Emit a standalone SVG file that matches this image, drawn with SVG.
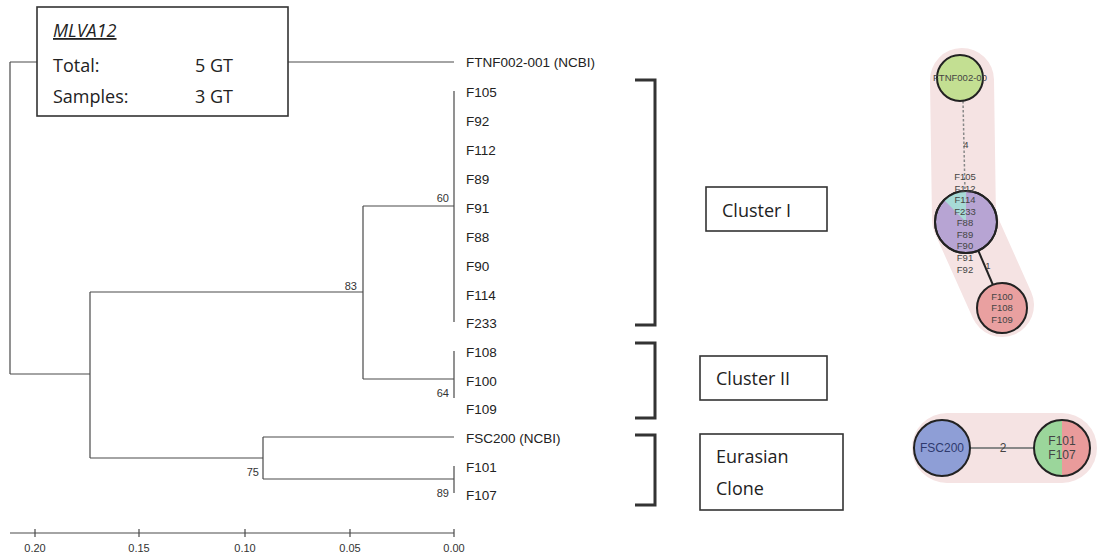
<svg xmlns="http://www.w3.org/2000/svg" width="1102" height="558" viewBox="0 0 1102 558">
<style>
.br{stroke:#4a4a4a;stroke-width:1.2;fill:none}
.lf{font-family:"Liberation Sans",Arial,sans-serif;font-size:13.5px;fill:#222}
.bs{font-family:"Liberation Sans",Arial,sans-serif;font-size:11px;fill:#333}
.ax{font-family:"Liberation Sans",Arial,sans-serif;font-size:11px;fill:#333;text-anchor:middle}
.bx{fill:#fff;stroke:#333;stroke-width:1.6}
.bt{font-family:"Open Sans","Liberation Sans",sans-serif;font-size:18px;fill:#222}
.brk{fill:none;stroke:#333;stroke-width:3}
.nl{font-family:"Liberation Sans",Arial,sans-serif;font-size:9.5px;fill:#444;text-anchor:middle}
.nb{font-family:"Liberation Sans",Arial,sans-serif;font-size:12px;fill:#444;text-anchor:middle}
.cs{stroke:#222;stroke-width:2}
</style>
<rect width="1102" height="558" fill="#fff"/>
<g id="connectors">
<path class="br" d="M10,62 V374 M10,62 H37 M288,62 H454"/>
<path class="br" d="M10,374 H90 M90,292 V458 M90,292 H363 M363,206 V379 M363,206 H454 M454,91 V322 M363,379 H454 M454,351 V398"/>
<path class="br" d="M90,458 H263 M263,437 V479 M263,437 H454 M263,479 H454 M454,466 V493"/>
</g>
<g id="support-values">
<text class="bs" x="449" y="202" text-anchor="end">60</text>
<text class="bs" x="357" y="290" text-anchor="end">83</text>
<text class="bs" x="449" y="397" text-anchor="end">64</text>
<text class="bs" x="259" y="476" text-anchor="end">75</text>
<text class="bs" x="449" y="497" text-anchor="end">89</text>
</g>
<g id="leaves">
<text class="lf" x="466" y="67">FTNF002-001 (NCBI)</text>
<text class="lf" x="466" y="97">F105</text>
<text class="lf" x="466" y="126">F92</text>
<text class="lf" x="466" y="155">F112</text>
<text class="lf" x="466" y="184">F89</text>
<text class="lf" x="466" y="213">F91</text>
<text class="lf" x="466" y="242">F88</text>
<text class="lf" x="466" y="271">F90</text>
<text class="lf" x="466" y="300">F114</text>
<text class="lf" x="466" y="328">F233</text>
<text class="lf" x="466" y="357">F108</text>
<text class="lf" x="466" y="386">F100</text>
<text class="lf" x="466" y="414">F109</text>
<text class="lf" x="466" y="443">FSC200 (NCBI)</text>
<text class="lf" x="466" y="472">F101</text>
<text class="lf" x="466" y="500">F107</text>
</g>
<g id="axis">
<path class="br" d="M10,533 H454 M35,529 V537 M139,529 V537 M245,529 V537 M350,529 V537 M454,529 V537"/>
<text class="ax" x="35" y="552">0.20</text>
<text class="ax" x="139" y="552">0.15</text>
<text class="ax" x="245" y="552">0.10</text>
<text class="ax" x="350" y="552">0.05</text>
<text class="ax" x="454" y="552">0.00</text>
</g>
<g id="mlva-box">
<rect class="bx" x="37" y="7" width="251" height="109"/>
<text class="bt" x="53" y="37" font-style="italic" text-decoration="underline">MLVA12 </text>
<text class="bt" x="53" y="72">Total:</text>
<text class="bt" x="195" y="72">5 GT</text>
<text class="bt" x="53" y="103">Samples:</text>
<text class="bt" x="195" y="103">3 GT</text>
</g>
<g id="cluster-I">
<path class="brk" d="M635,80 H655 V325 H635"/>
<rect class="bx" x="706" y="187" width="121" height="44"/>
<text class="bt" x="722" y="217">Cluster I</text>
</g>
<g id="cluster-II">
<path class="brk" d="M635,343 H655 V418 H635"/>
<rect class="bx" x="700" y="356" width="127" height="44"/>
<text class="bt" x="716" y="385">Cluster II</text>
</g>
<g id="eurasian-clone">
<path class="brk" d="M635,435 H655 V505 H635"/>
<rect class="bx" x="700" y="434" width="143" height="76"/>
<text class="bt" x="716" y="463">Eurasian</text>
<text class="bt" x="716" y="495">Clone</text>
</g>
<g id="network-top">
<path d="M962,80 L964,220 L1002,305" fill="none" stroke="#f5e3e3" stroke-width="64" stroke-linejoin="round" stroke-linecap="round"/>
<line x1="963" y1="101" x2="965" y2="192" stroke="#888" stroke-width="1.5" stroke-dasharray="2.5,2"/>
<text class="nl" x="966" y="148">4</text>
<line x1="978" y1="250" x2="993" y2="285" stroke="#222" stroke-width="2"/>
<text class="nl" x="988" y="269">1</text>
<circle class="cs" cx="960" cy="78" r="23" fill="#c3df92"/>
<text class="nl" x="960" y="81">FTNF002-00</text>
<circle class="cs" cx="966" cy="222" r="31" fill="#b7a4d3"/>
<path d="M966,222 L966,191 A31,31 0 0 0 944.1,200.1 Z" fill="#a7dad6"/>
<circle cx="966" cy="222" r="31" fill="none" stroke="#222" stroke-width="2"/>
<circle class="cs" cx="1002" cy="308" r="25" fill="#e9a0a0"/>
<text class="nl" x="965" y="180">F105</text>
<text class="nl" x="965" y="192">F112</text>
<text class="nl" x="965" y="203">F114</text>
<text class="nl" x="965" y="215">F233</text>
<text class="nl" x="965" y="226">F88</text>
<text class="nl" x="965" y="238">F89</text>
<text class="nl" x="965" y="249">F90</text>
<text class="nl" x="965" y="261">F91</text>
<text class="nl" x="965" y="273">F92</text>
<text class="nl" x="1002" y="300">F100</text>
<text class="nl" x="1002" y="311">F108</text>
<text class="nl" x="1002" y="323">F109</text>
</g>
<g id="network-bottom">
<rect x="912" y="413" width="185" height="70" rx="35" fill="#f5e3e3"/>
<line x1="970" y1="448" x2="1034" y2="448" stroke="#888" stroke-width="2"/>
<text class="nb" x="1003" y="452">2</text>
<circle class="cs" cx="942" cy="448" r="28" fill="#8e9ed6"/>
<text class="nb" x="942" y="452" style="fill:#2e3a6e">FSC200</text>
<path d="M1062,420 A28,28 0 0 0 1062,476 Z" fill="#9bd69b"/>
<path d="M1062,420 A28,28 0 0 1 1062,476 Z" fill="#e99b9b"/>
<circle cx="1062" cy="448" r="28" fill="none" stroke="#222" stroke-width="2"/>
<text class="nb" x="1062" y="445">F101</text>
<text class="nb" x="1062" y="459">F107</text>
</g>
</svg>
